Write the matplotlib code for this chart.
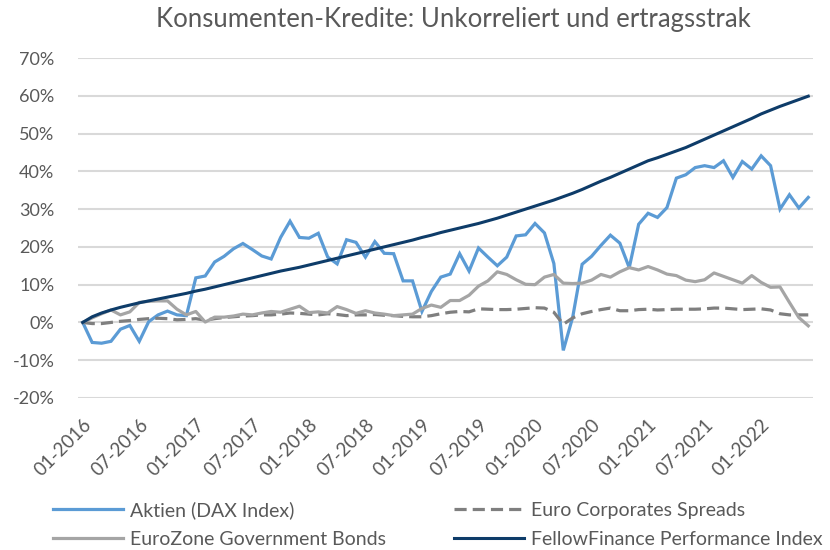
import matplotlib
matplotlib.use("Agg")
import matplotlib.pyplot as plt
import pandas as pd

# Monthly categories 01-2016 .. 06-2022
months = pd.date_range("2016-01-01", "2022-06-01", freq="MS").strftime("%m-%Y").tolist()

aktien = [0, -5.3, -5.5, -5.0, -1.8, -0.8, -5.0, 0.2, 2.0, 3.0, 2.0, 1.8,
          11.8, 12.3, 16.0, 17.5, 19.5, 20.9, 19.3, 17.6, 16.8, 22.5, 26.8, 22.5,
          22.3, 23.6, 17.3, 15.5, 21.9, 21.2, 17.3, 21.4, 18.3, 18.2, 11.0, 11.0,
          2.9, 8.2, 12.0, 12.8, 18.2, 13.6, 19.7, 17.3, 15.0, 17.3, 22.9, 23.2,
          26.2, 23.7, 15.6, -7.4, 1.4, 15.4, 17.5, 20.4, 23.1, 21.0, 14.5, 26.0,
          28.9, 27.8, 30.4, 38.2, 39.1, 41.0, 41.5, 41.0, 42.8, 38.4, 42.6, 40.6,
          44.1, 41.5, 30.0, 33.8, 30.3, 33.1]

corporates = [0, -0.3, -0.3, 0.0, 0.3, 0.5, 0.8, 1.0, 1.1, 1.0, 0.7, 0.8,
              1.0, 0.6, 1.0, 1.3, 1.5, 1.7, 1.8, 2.0, 2.0, 2.2, 2.5, 2.4,
              2.2, 2.0, 2.3, 2.1, 1.8, 2.0, 2.0, 2.1, 1.9, 1.8, 1.6, 1.5,
              1.5, 1.8, 2.3, 2.7, 2.9, 2.8, 3.6, 3.5, 3.4, 3.4, 3.5, 3.7,
              3.9, 3.8, 2.7, -0.5, 1.2, 2.3, 2.9, 3.4, 3.8, 3.1, 3.1, 3.4,
              3.5, 3.3, 3.4, 3.5, 3.5, 3.5, 3.6, 3.8, 3.8, 3.6, 3.4, 3.5,
              3.6, 3.3, 2.3, 2.0, 2.0, 2.0]

govbonds = [0, 1.2, 2.3, 3.3, 2.0, 2.8, 5.3, 5.6, 5.7, 5.7, 3.5, 2.0,
            2.9, 0.1, 1.4, 1.4, 1.7, 2.2, 2.0, 2.5, 2.9, 2.7, 3.5, 4.3,
            2.6, 2.8, 2.5, 4.2, 3.4, 2.4, 3.1, 2.5, 2.2, 1.8, 2.0, 2.2,
            3.7, 4.6, 4.0, 5.8, 5.8, 7.2, 9.6, 11.0, 13.4, 12.7, 11.3, 10.1,
            10.0, 12.0, 12.7, 10.4, 10.3, 10.4, 11.2, 12.7, 12.0, 13.4, 14.5, 13.9,
            14.8, 13.9, 12.8, 12.4, 11.2, 10.8, 11.3, 13.1, 12.2, 11.3, 10.4, 12.4,
            10.6, 9.3, 9.4, 5.3, 1.3, -0.9]

fellow = [0, 1.5, 2.5, 3.3, 4.0, 4.6, 5.2, 5.7, 6.2, 6.7, 7.2, 7.7,
          8.3, 8.8, 9.4, 10.0, 10.6, 11.2, 11.8, 12.4, 13.0, 13.6, 14.1, 14.6,
          15.2, 15.8, 16.4, 17.0, 17.6, 18.2, 18.8, 19.4, 20.0, 20.6, 21.2, 21.8,
          22.5, 23.1, 23.8, 24.4, 25.0, 25.6, 26.2, 26.9, 27.6, 28.4, 29.2, 30.0,
          30.8, 31.6, 32.4, 33.3, 34.2, 35.2, 36.3, 37.4, 38.4, 39.5, 40.6, 41.7,
          42.8, 43.6, 44.5, 45.4, 46.3, 47.4, 48.5, 49.6, 50.7, 51.8, 52.9, 54.0,
          55.2, 56.2, 57.2, 58.1, 59.0, 59.9]

labels = ["Aktien (DAX Index)", "Euro Corporates Spreads",
          "EuroZone Government Bonds", "FellowFinance Performance Index"]
yticks = [-20, -10, 0, 10, 20, 30, 40, 50, 60, 70]

plt.rcParams['font.family'] = ['Lato', 'DejaVu Sans']
text_color = "#595959"

fig = plt.figure(figsize=(8.3, 5.5), dpi=100)
ax = fig.add_axes([0.094, 0.2764, 0.8855, 0.6181])

x = list(range(len(months)))
l1, = ax.plot(x, aktien, color="#5b9bd5", lw=2.3, solid_joinstyle="miter")
l2, = ax.plot(x, corporates, color="#7f7f7f", lw=2.3, dashes=(3.8, 1.9))
l3, = ax.plot(x, govbonds, color="#a5a5a5", lw=2.3)
l4, = ax.plot(x, fellow, color="#0e3c69", lw=2.2)

ax.set_xlim(-0.5, len(months) - 0.5)
ax.set_ylim(-20, 70)
ax.set_yticks(yticks)
ax.set_yticklabels([f"{v}%" for v in yticks], fontsize=13, color=text_color)
tick_pos = list(range(0, len(months), 6))
ax.set_xticks(tick_pos)
ax.set_xticklabels([months[i] for i in tick_pos], rotation=45, ha="right",
                   rotation_mode="anchor", fontsize=13.5, color=text_color)
ax.tick_params(axis="both", length=0)
ax.tick_params(axis="x", pad=13)
ax.tick_params(axis="y", pad=17)
ax.grid(axis="y", color="#d9d9d9", lw=1.5)
ax.set_axisbelow(True)
for s in ax.spines.values():
    s.set_visible(False)

fig.text(0.546, 0.965, "Konsumenten-Kredite: Unkorreliert und ertragsstrak",
         ha="center", va="center", fontsize=18.5, color=text_color)

fig.legend([l1, l3, l2, l4], [labels[0], labels[2], labels[1], labels[3]],
           ncol=2, loc="lower left", bbox_to_anchor=(0.064, 0.004),
           frameon=False, fontsize=14, labelcolor=text_color,
           borderpad=0, borderaxespad=0,
           handlelength=3.6, handletextpad=0.36, columnspacing=3.5,
           labelspacing=0.6)

fig.savefig("out.png", dpi=100)
